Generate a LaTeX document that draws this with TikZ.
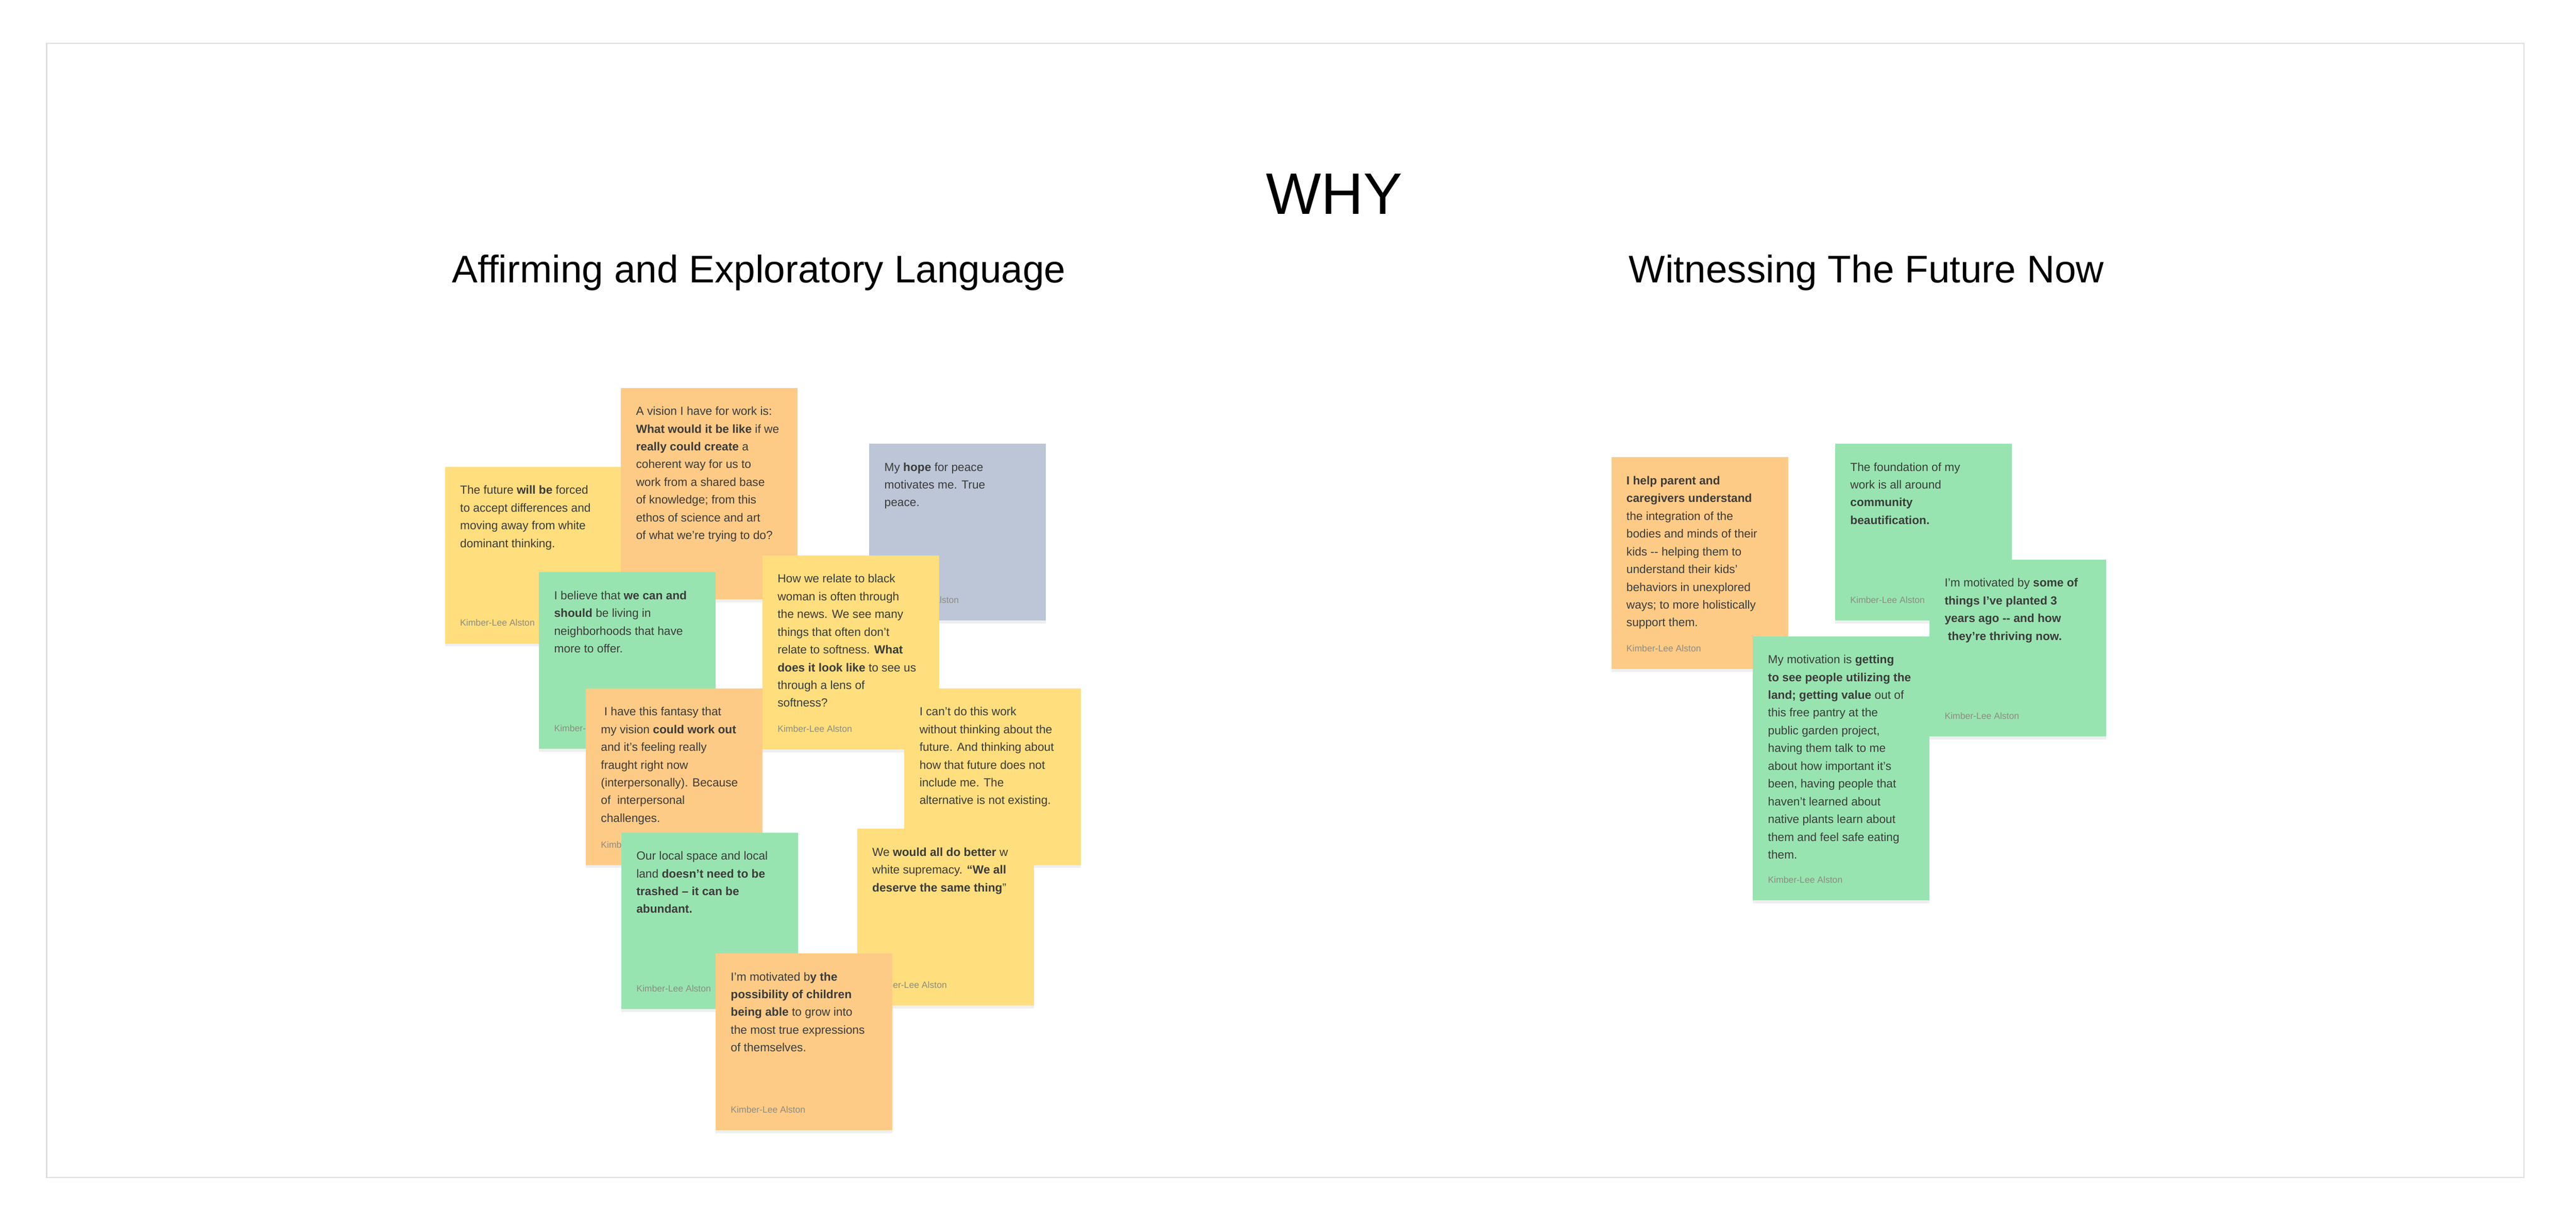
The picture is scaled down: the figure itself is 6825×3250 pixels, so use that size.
\documentclass[tikz,border=0pt]{standalone}
\usepackage{fontspec}
\setmainfont{Liberation Sans}
\newfontfamily\notefont{Liberation Sans}
\usetikzlibrary{shadows}
\definecolor{nyellow}{HTML}{FFDE7E}
\definecolor{norange}{HTML}{FECB87}
\definecolor{ngreen}{HTML}{98E4B0}
\definecolor{nblue}{HTML}{BCC6D7}
\definecolor{ntext}{HTML}{3B3B3B}
\definecolor{nauth}{HTML}{8C8C80}
\definecolor{frame}{HTML}{DDDDDD}
\tikzset{
  note/.style={draw=none,inner sep=0pt,minimum width=468pt,
    drop shadow={opacity=0.12,shadow xshift=0pt,shadow yshift=-8pt}},
  notetext/.style={inner sep=0pt,align=left,text=ntext,
    font=\notefont\fontsize{31}{47}\selectfont},
  author/.style={inner sep=0pt,text=nauth,font=\notefont\fontsize{24}{26}\selectfont},
  title/.style={inner sep=0pt,text=black}
}
\newcommand\stick[6]{%
  \node[note,fill=#2,minimum height=#5pt,anchor=north west] (#1) at (#3,#4) {};
  \node[notetext,anchor=north west] (#1t) at ([xshift=40pt,yshift=-50pt]#1.north west) {#6};
  \node[author,anchor=base west] (#1a) at ([xshift=40pt,yshift=46pt]#1.south west) {Kimber-Lee Alston};
}
\begin{document}
\begin{tikzpicture}[x=1pt,y=-1pt]
\useasboundingbox (0,0) rectangle (6825,3250);
\fill[white] (0,0) rectangle (6825,3250);
\node[draw=frame,line width=3pt,inner sep=0pt,minimum width=6564pt,minimum height=3004pt,anchor=north west] (frm) at (122,113) {};
\node[title,font=\fontsize{155}{165}\selectfont] (why) at (3535,514) {WHY};
\node[title,font=\fontsize{102}{110}\selectfont] (t1) at (2011,723) {Affirming and Exploratory Language};
\node[title,font=\fontsize{102}{110}\selectfont] (t2) at (4945,723) {Witnessing The Future Now};

\stick{future}{nyellow}{1179}{1236}{468}{The future \textbf{will be} forced\\to accept differences and\\moving away from white\\dominant thinking.}
\stick{vision}{norange}{1645}{1027}{560}{A vision I have for work is:\\\textbf{What would it be like} if we\\\textbf{really could create} a\\coherent way for us to\\work from a shared base\\of knowledge; from this\\ethos of science and art\\of what we’re trying to do?}
\stick{hope}{nblue}{2303}{1175}{468}{My \textbf{hope} for peace\\motivates me. True\\peace.}
\stick{believe}{ngreen}{1428}{1515}{468}{I believe that \textbf{we can and}\\\textbf{should} be living in\\neighborhoods that have\\more to offer.}
\stick{howwe}{nyellow}{2020}{1471}{514}{How we relate to black\\woman is often through\\the news. We see many\\things that often don’t\\relate to softness. \textbf{What}\\\textbf{does it look like} to see us\\through a lens of\\softness?}
\stick{fantasy}{norange}{1552}{1823}{468}{\ I have this fantasy that\\my vision \textbf{could work out}\\and it’s feeling really\\fraught right now\\(interpersonally). Because\\of \ interpersonal\\challenges.}
\stick{cant}{nyellow}{2396}{1823}{468}{I can’t do this work\\without thinking about the\\future. And thinking about\\how that future does not\\include me. The\\alternative is not existing.}
\stick{local}{ngreen}{1646}{2205}{468}{Our local space and local\\land \textbf{doesn’t need to be}\\\textbf{trashed – it can be}\\\textbf{abundant.}}
\stick{better}{nyellow}{2271}{2195}{468}{We \textbf{would all do better} w\\white supremacy. \textbf{“We all}\\\textbf{deserve the same thing}”}
\stick{children}{norange}{1896}{2525}{468}{I’m motivated b\textbf{y the}\\\textbf{possibility of children}\\\textbf{being able} to grow into\\the most true expressions\\of themselves.}

\stick{help}{norange}{4269}{1211}{561}{\textbf{I help parent and}\\\textbf{caregivers understand}\\the integration of the\\bodies and minds of their\\kids -{}- helping them to\\understand their kids’\\behaviors in unexplored\\ways; to more holistically\\support them.}
\stick{found}{ngreen}{4862}{1175}{468}{The foundation of my\\work is all around\\\textbf{community}\\\textbf{beautification.}}
\stick{garden}{ngreen}{4644}{1685}{700}{My motivation is \textbf{getting}\\\textbf{to see people utilizing the}\\\textbf{land; getting value} out of\\this free pantry at the\\public garden project,\\having them talk to me\\about how important it’s\\been, having people that\\haven’t learned about\\native plants learn about\\them and feel safe eating\\them.}
\stick{planted}{ngreen}{5112}{1482}{468}{I’m motivated by \textbf{some of}\\\textbf{things I’ve planted 3}\\\textbf{years ago -{}- and how}\\\textbf{\ they’re thriving now.}}
\end{tikzpicture}
\end{document}
